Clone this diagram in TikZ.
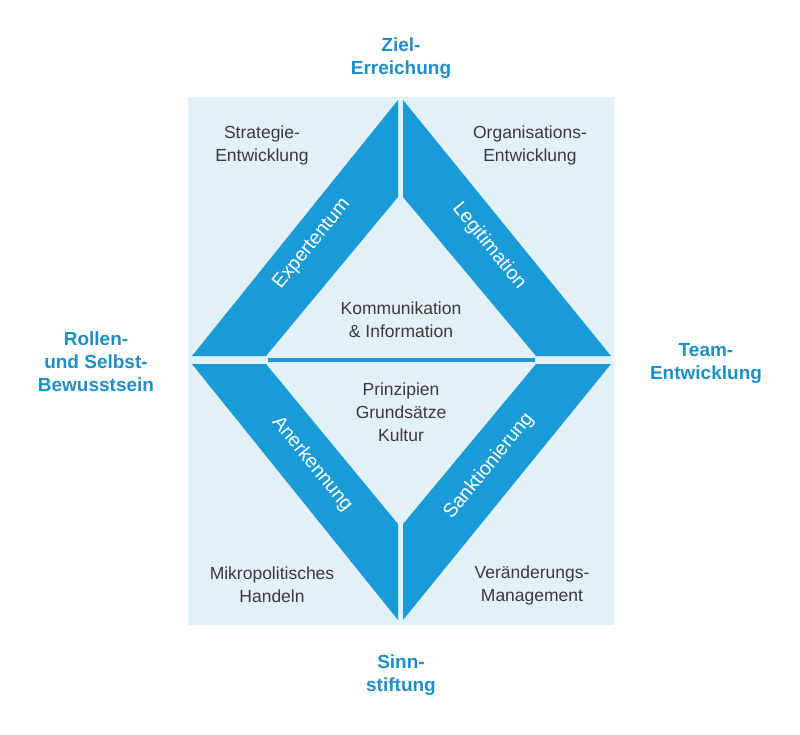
\documentclass[tikz,border=0pt]{standalone}
\usepackage{fontspec}
\setmainfont{Liberation Sans}
\usetikzlibrary{positioning}
\definecolor{bandblue}{HTML}{1A9BD7}
\definecolor{paleblue}{HTML}{E2F0F7}
\definecolor{titleblue}{HTML}{1E8FC9}
\definecolor{textgrey}{HTML}{3A3A3A}
\tikzset{
  band/.style={fill=bandblue, draw=none},
  field/.style={align=center, font=\fontsize{17.5}{23}\selectfont, text=textgrey},
  pole/.style={align=center, font=\fontsize{19}{23}\selectfont\bfseries, text=titleblue},
  bandlabel/.style={font=\fontsize{19.5}{22}\selectfont, text=white}
}
\begin{document}
\begin{tikzpicture}[x=1pt,y=-1pt]
\useasboundingbox (0,0) rectangle (800,734);
\fill[white] (0,0) rectangle (800,734);
% Background square
\fill[paleblue] (188,97) rectangle (614,625);

% Bands
\fill[band] (398,100) -- (192,356) -- (266,356) -- (398,197) -- cycle;
\fill[band] (403,100) -- (611,356) -- (536,356) -- (403,197) -- cycle;
\fill[band] (398,620) -- (192,364) -- (266,364) -- (398,524) -- cycle;
\fill[band] (403,620) -- (611,364) -- (536,364) -- (403,524) -- cycle;
\fill[band] (268,358) rectangle (535,362);

% Band labels
\node[bandlabel, rotate=51] (exp) at (312,244) {Expertentum};
\node[bandlabel, rotate=-51] (leg) at (489,246) {Legitimation};
\node[bandlabel, rotate=-51] (ane) at (312,464) {Anerkennung};
\node[bandlabel, rotate=51] (san) at (489,466) {Sanktionierung};

% Fields
\node[field] (strat) at (262,145) {Strategie-\\Entwicklung};
\node[field] (orga) at (530,145) {Organisations-\\Entwicklung};
\node[field] (komm) at (401,320) {Kommunikation\\\& Information};
\node[field] (prin) at (401,412) {Prinzipien\\Grundsätze\\Kultur};
\node[field] (mikro) at (272,585) {Mikropolitisches\\Handeln};
\node[field] (verae) at (532,585) {Veränderungs-\\Management};

% Poles
\node[pole] (ziel) at (401,58) {Ziel-\\Erreichung};
\node[pole] (rolle) at (96,362) {Rollen-\\und Selbst-\\Bewusstsein};
\node[pole] (team) at (706,363) {Team-\\Entwicklung};
\node[pole] (sinn) at (401,675) {Sinn-\\stiftung};
\end{tikzpicture}
\end{document}
